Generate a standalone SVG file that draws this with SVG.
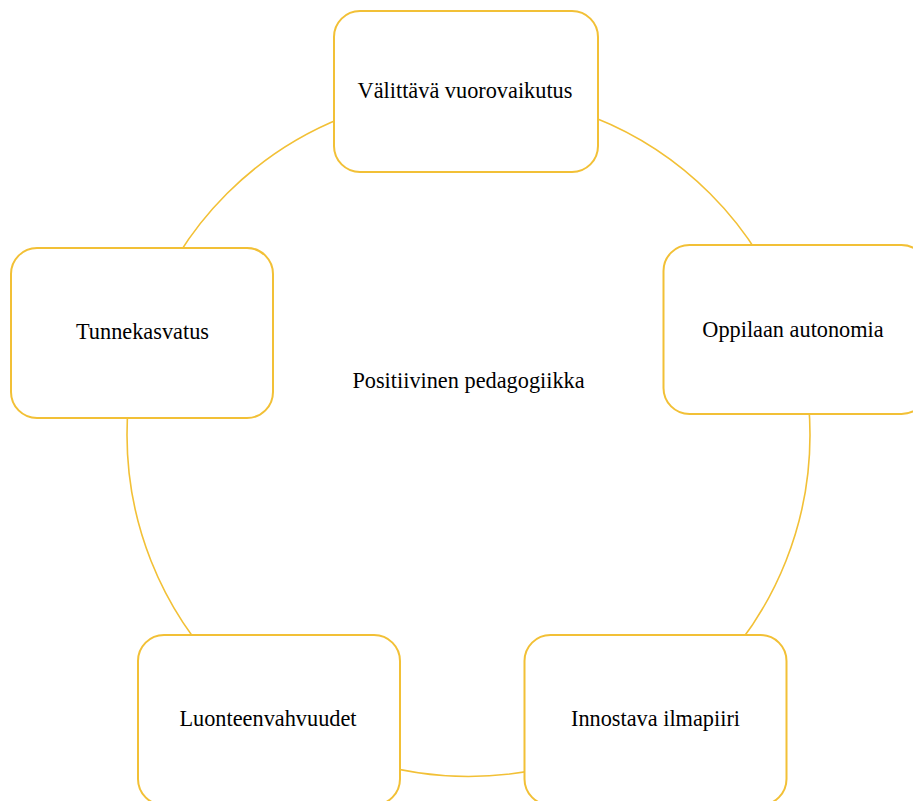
<svg xmlns="http://www.w3.org/2000/svg" width="913" height="801" viewBox="0 0 913 801">
<style>
.box{fill:#ffffff;stroke:#F2C036;stroke-width:2}
.ring{fill:none;stroke:#F2C036;stroke-width:1.6}
.lbl{font-family:"Liberation Serif","Times New Roman",serif;font-size:22.3px;fill:#000000;text-anchor:middle}
</style>
<rect width="913" height="801" fill="#ffffff"/>
<g id="connectors">
<circle class="ring" cx="468.5" cy="435" r="341.5"/>
</g>
<g id="center">
<text class="lbl" x="468.5" y="388">Positiivinen pedagogiikka</text>
</g>
<g id="n-top">
<rect class="box" x="334" y="11" width="264" height="161" rx="26"/>
<text class="lbl" x="465" y="98">Välittävä vuorovaikutus</text>
</g>
<g id="n-right">
<rect class="box" x="663.5" y="245" width="264" height="169" rx="26"/>
<text class="lbl" x="793" y="337">Oppilaan autonomia</text>
</g>
<g id="n-left">
<rect class="box" x="11" y="248" width="262" height="170" rx="26"/>
<text class="lbl" x="142.5" y="339">Tunnekasvatus</text>
</g>
<g id="n-bottom-left">
<rect class="box" x="138" y="635" width="262" height="170" rx="26"/>
<text class="lbl" x="268" y="726">Luonteenvahvuudet</text>
</g>
<g id="n-bottom-right">
<rect class="box" x="524.5" y="635" width="262" height="170" rx="26"/>
<text class="lbl" x="655.5" y="726">Innostava ilmapiiri</text>
</g>
</svg>
